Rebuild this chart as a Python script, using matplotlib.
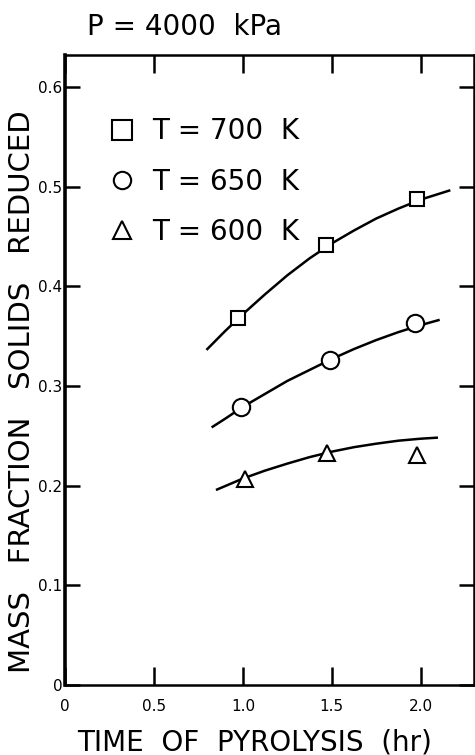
import matplotlib as mpl
import matplotlib.pyplot as plt

# measured points (time in hr, mass fraction reduced)
t_700 = [0.97, 1.47, 1.98]
m_700 = [0.368, 0.441, 0.488]
t_650 = [0.99, 1.49, 1.97]
m_650 = [0.279, 0.326, 0.363]
t_600 = [1.01, 1.475, 1.98]
m_600 = [0.207, 0.233, 0.231]

# hand drawn fit curves
ct_700 = [0.80, 0.90, 1.00, 1.125, 1.25, 1.375, 1.50, 1.625, 1.75, 1.875, 2.00, 2.16]
cm_700 = [0.337, 0.355, 0.372, 0.392, 0.411, 0.428, 0.443, 0.456, 0.468, 0.478, 0.487, 0.496]
ct_650 = [0.83, 0.90, 1.00, 1.125, 1.25, 1.375, 1.50, 1.625, 1.75, 1.875, 2.00, 2.10]
cm_650 = [0.259, 0.267, 0.279, 0.292, 0.305, 0.316, 0.327, 0.337, 0.346, 0.354, 0.361, 0.366]
ct_600 = [0.855, 1.00, 1.125, 1.25, 1.375, 1.50, 1.625, 1.75, 1.875, 2.00, 2.09]
cm_600 = [0.196, 0.207, 0.215, 0.222, 0.2285, 0.234, 0.2385, 0.242, 0.245, 0.247, 0.248]

x_ticks = [0, 0.5, 1.0, 1.5, 2.0]
x_labels = ['0', '0.5', '1.0', '1.5', '2.0']
y_ticks = [0, 0.1, 0.2, 0.3, 0.4, 0.5, 0.6]
y_labels = ['0', '0.1', '0.2', '0.3', '0.4', '0.5', '0.6']

dpi = 100
fig = plt.figure(dpi=dpi, figsize=(475 / dpi, 755 / dpi))
mpl.rcParams.update({'font.size': 10, 'font.family': 'DejaVu Sans'})

ax = fig.add_axes([0.137, 0.093, 0.861, 0.834])
ax.set_xlim(0, 2.3)
ax.set_ylim(0, 0.632)

lw = 1.8
ax.plot(ct_700, cm_700, color='black', lw=lw)
ax.plot(ct_650, cm_650, color='black', lw=lw)
ax.plot(ct_600, cm_600, color='black', lw=lw)

mk = dict(color='black', markerfacecolor='white', markeredgecolor='black',
          markeredgewidth=1.5, linestyle='none')
ax.plot(t_700, m_700, marker='s', markersize=10, label='T = 700  K', **mk)
ax.plot(t_650, m_650, marker='o', markersize=12.5, label='T = 650  K', **mk)
ax.plot(t_600, m_600, marker='^', markersize=12, label='T = 600  K', **mk)

leg = ax.legend(loc='upper left', bbox_to_anchor=(0.105, 0.901), frameon=False,
                fontsize=20, handlelength=1.0, handletextpad=0.6,
                labelspacing=0.8, borderpad=0, borderaxespad=0, numpoints=1)
for h, s in zip(leg.legend_handles, [14, 12.5, 13]):
    h.set_markersize(s)

ax.set_xticks(x_ticks)
ax.set_xticklabels(x_labels)
ax.set_yticks(y_ticks)
ax.set_yticklabels(y_labels)
ax.tick_params(axis='x', direction='in', length=13, width=1.8, pad=10,
               labelsize=11, top=True)
ax.tick_params(axis='y', direction='in', length=11, width=1.8, pad=2,
               labelsize=11, right=True)
for side in ['top', 'right', 'bottom']:
    ax.spines[side].set_linewidth(1.8)
ax.spines['left'].set_linewidth(2.6)

fig.text(0.183, 0.964, 'P = 4000  kPa', fontsize=20, ha='left', va='center')
fig.text(0.536, 0.017, 'TIME  OF  PYROLYSIS  (hr)', fontsize=20,
         ha='center', va='center')
fig.text(0.046, 0.481, 'MASS   FRACTION   SOLIDS   REDUCED', fontsize=21,
         rotation=90, ha='center', va='center')

plt.savefig('out.png', dpi=dpi)
